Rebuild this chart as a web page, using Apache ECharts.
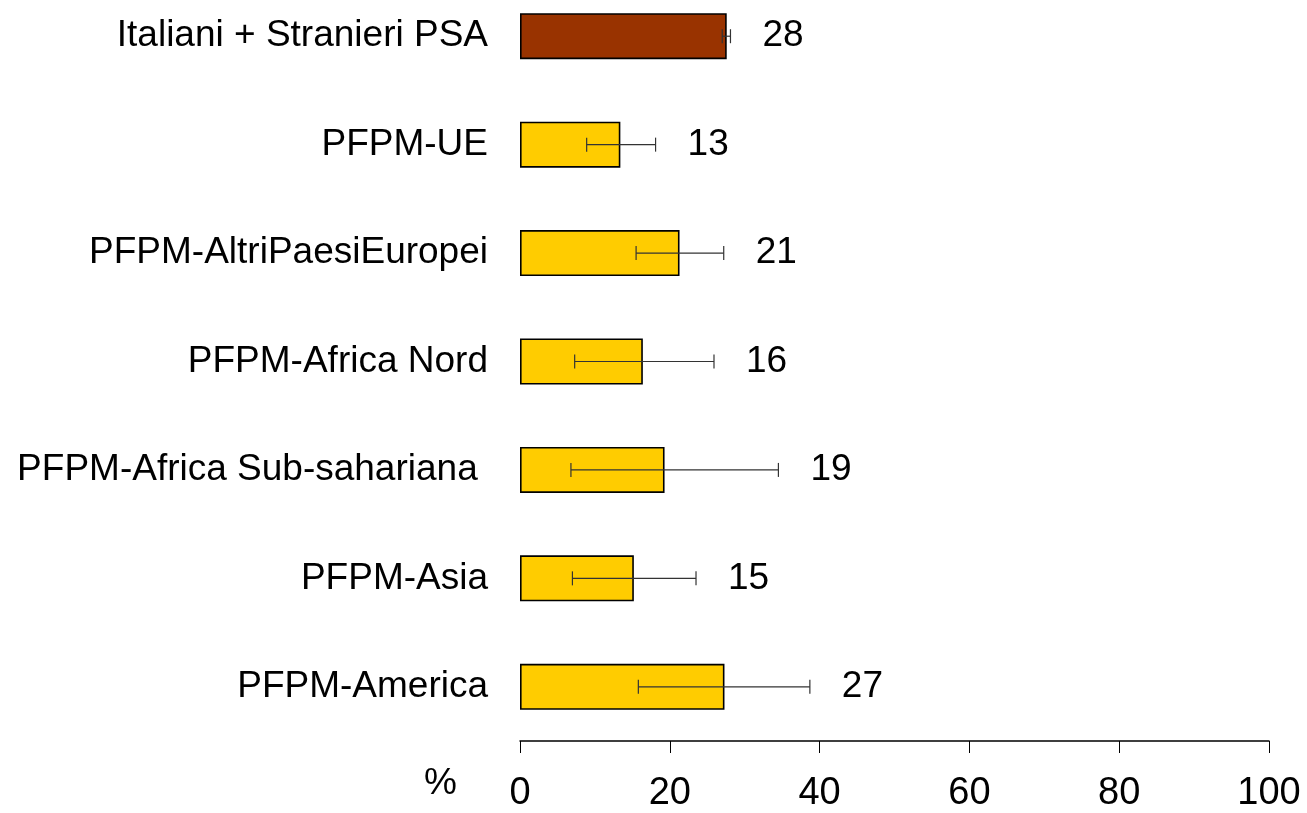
<!DOCTYPE html>
<html>
<head>
<meta charset="utf-8">
<script src="https://cdn.jsdelivr.net/npm/echarts@6/dist/echarts.min.js"></script>
<style>html,body{margin:0;padding:0;background:#fff;overflow:hidden}#c{position:absolute;left:0;top:-18px;width:1307px;height:831px}</style>
</head>
<body>
<div id="c"></div>
<script>
const categories = ['Italiani + Stranieri PSA','PFPM-UE','PFPM-AltriPaesiEuropei','PFPM-Africa Nord','PFPM-Africa Sub-sahariana ','PFPM-Asia','PFPM-America'];
const values = [27.6, 13.4, 21.3, 16.4, 19.3, 15.2, 27.3];
const errLow = [27.0, 8.9, 15.5, 7.3, 6.8, 7.0, 15.8];
const errHigh = [28.1, 18.1, 27.2, 25.9, 34.5, 23.5, 38.7];
const xTicks = [0, 20, 40, 60, 80, 100];

const FONT = '"Liberation Sans", Arial, sans-serif';
const OFF = 18;
const chart = echarts.init(document.getElementById('c'));
chart.setOption({
  animation: false,
  grid: {left: 520, right: 38, top: 0, bottom: 72, containLabel: false},
  xAxis: {
    type: 'value', min: xTicks[0], max: xTicks[xTicks.length-1], interval: 20,
    axisLine: {show: true, lineStyle: {color: '#000', width: 1.5}},
    axisTick: {show: true, length: 12, lineStyle: {color: '#000', width: 1}},
    splitLine: {show: false},
    axisLabel: {fontFamily: FONT, fontSize: 38, color: '#000', margin: 34}
  },
  yAxis: {
    type: 'category', data: categories, inverse: true,
    axisLine: {show: false}, axisTick: {show: false},
    axisLabel: {fontFamily: FONT, fontSize: 37, color: '#000', margin: 32}
  },
  graphic: [{type: 'text', x: 424, y: 784 + OFF, style: {text: '%', font: '37px ' + FONT, fill: '#000', textVerticalAlign: 'middle'}}],
  series: [
    {
      type: 'bar', barWidth: 46,
      data: values.map((v, i) => ({value: v, itemStyle: {color: i === 0 ? '#993300' : '#FFCC00'}})),
      itemStyle: {borderColor: '#000', borderWidth: 1.6}
    },
    {
      type: 'custom', z: 10,
      data: categories.map((c, i) => [i, errLow[i], errHigh[i], Math.round(values[i])]),
      renderItem: function (params, api) {
        const i = api.value(0);
        const lo = api.coord([api.value(1), i]);
        const hi = api.coord([api.value(2), i]);
        const y = lo[1];
        const h = 7;
        return {
          type: 'group',
          children: [
            {type: 'line', shape: {x1: lo[0], y1: y, x2: hi[0], y2: y}, style: {stroke: '#333', lineWidth: 1.2}},
            {type: 'line', shape: {x1: lo[0], y1: y - h, x2: lo[0], y2: y + h}, style: {stroke: '#333', lineWidth: 1.2}},
            {type: 'line', shape: {x1: hi[0], y1: y - h, x2: hi[0], y2: y + h}, style: {stroke: '#333', lineWidth: 1.2}},
            {type: 'text', x: hi[0] + 32, y: y, style: {text: String(api.value(3)), font: '37px ' + FONT, fill: '#000', textVerticalAlign: 'middle', textAlign: 'left'}}
          ]
        };
      }
    }
  ]
});
</script>
</body>
</html>
